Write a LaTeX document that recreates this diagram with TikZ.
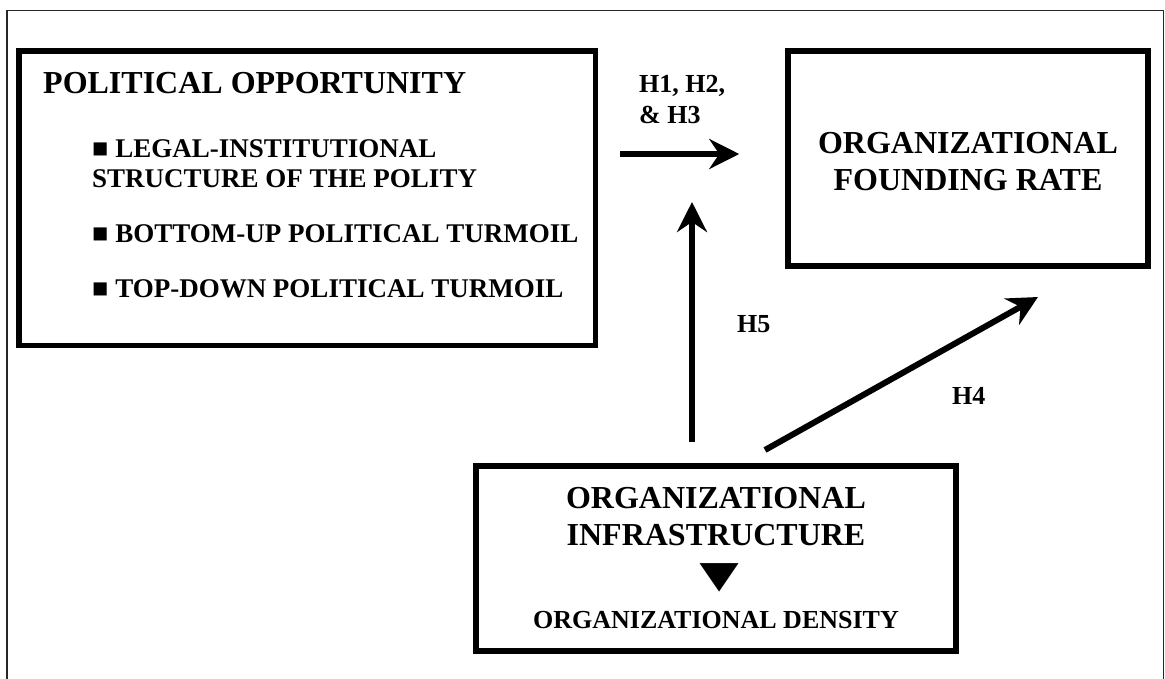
\documentclass[tikz,border=0pt]{standalone}
\usepackage{fontspec}
\usepackage{graphicx}
\setmainfont{Liberation Serif}
\usetikzlibrary{arrows.meta}
\tikzset{
	factor/.style={draw, rectangle, line width=5.5pt, inner sep=0pt},
	title/.style={font=\fontsize{32}{37}\selectfont, inner sep=0pt},
	item/.style={font=\fontsize{27}{30}\selectfont, anchor=base west, inner sep=0pt, align=left},
	hyp/.style={font=\fontsize{26}{31}\selectfont, anchor=base west, inner sep=0pt, align=left},
}
\begin{document}
\bfseries
\begin{tikzpicture}[x=1pt, y=-1pt]
	\useasboundingbox (0,0) rectangle (1165,678);
	% frame, open at the bottom
	\draw [line width=1.8pt, black!85] (7,690) -- (7,10.5) -- (1163.5,10.5) -- (1163.5,690);
	
	\node (polopp) [factor, minimum width=576.5pt, minimum height=294.5pt] at (307.25,198.25) {};
	\node (rate) [factor, minimum width=360pt, minimum height=215pt] at (968,158.5) {};
	\node (infra) [factor, minimum width=480pt, minimum height=185pt] at (716,558.5) {};
	
	% multi-line nodes sit on the baseline of their last line
	\node (poltitle) [title, anchor=base west] at (43,93) {POLITICAL OPPORTUNITY};
	\node (legal) [item] at (92,187) {■ LEGAL-INSTITUTIONAL\\STRUCTURE OF THE POLITY};
	\node (bottomup) [item] at (92,242) {■ BOTTOM-UP POLITICAL TURMOIL};
	\node (topdown) [item] at (92,297) {■ TOP-DOWN POLITICAL TURMOIL};
	
	\node (ratetext) [title, align=center, anchor=base] at (968,190) {ORGANIZATIONAL\\FOUNDING RATE};
	
	\node (infratext) [title, align=center, anchor=base] at (716,545) {ORGANIZATIONAL\\INFRASTRUCTURE};
	\node (down) [font=\fontsize{40}{40}\selectfont, inner sep=0pt] at (720,577.5) {\scalebox{1.67}[1.22]{▼}};
	\node (density) [hyp, anchor=base] at (716,628) {ORGANIZATIONAL DENSITY};
	
	\node (h123) [hyp] at (639,123) {H1, H2,\\\& H3};
	\node (h5) [hyp] at (737,332) {H5};
	\node (h4) [hyp] at (952,404) {H4};
	
	\coordinate (mod) at (692,154);
	\coordinate (h4s) at (765,450);
	\coordinate (h4e) at (1038,297);
	
	\begin{scope}[line width=6pt, black, -{Stealth[length=30pt, width=30pt, inset=10pt]}]
		\draw [shorten <=22pt, shorten >=46pt] (polopp.east |- mod) -- (rate.west |- mod);
		\draw [shorten <=21pt, shorten >=48pt] (infra.north -| mod) -- (mod);
		\draw (h4s) -- (h4e);
	\end{scope}
	
\end{tikzpicture}
\end{document}
